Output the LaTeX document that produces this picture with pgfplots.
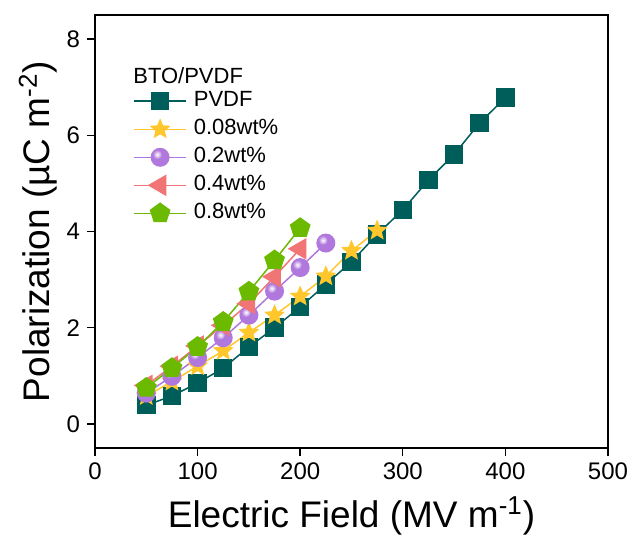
\documentclass[border=0pt]{standalone}
\usepackage{pgfplots}
\pgfplotsset{compat=1.18}
\usepackage{fontspec}
\setmainfont{Liberation Sans}

\definecolor{cpvdf}{RGB}{0,94,90}
\definecolor{cstar}{RGB}{255,199,44}
\definecolor{cball}{RGB}{176,120,220}
\definecolor{ctri}{RGB}{242,117,117}
\definecolor{cpent}{RGB}{108,186,0}

% filled five-pointed star
\pgfdeclareplotmark{fstar}{%
  \pgfpathmoveto{\pgfpointpolar{90}{\pgfplotmarksize}}%
  \pgfpathlineto{\pgfpointpolar{126}{0.45\pgfplotmarksize}}%
  \pgfpathlineto{\pgfpointpolar{162}{\pgfplotmarksize}}%
  \pgfpathlineto{\pgfpointpolar{198}{0.45\pgfplotmarksize}}%
  \pgfpathlineto{\pgfpointpolar{234}{\pgfplotmarksize}}%
  \pgfpathlineto{\pgfpointpolar{270}{0.45\pgfplotmarksize}}%
  \pgfpathlineto{\pgfpointpolar{306}{\pgfplotmarksize}}%
  \pgfpathlineto{\pgfpointpolar{342}{0.45\pgfplotmarksize}}%
  \pgfpathlineto{\pgfpointpolar{18}{\pgfplotmarksize}}%
  \pgfpathlineto{\pgfpointpolar{54}{0.45\pgfplotmarksize}}%
  \pgfpathclose
  \pgfusepathqfill
}
% flat sphere with a small highlight
\pgfdeclareradialshading{sphhl}{\pgfpoint{0bp}{0bp}}{color(0bp)=(white); color(25bp)=(cball); color(50bp)=(cball)}
\pgfdeclareplotmark{sph}{%
  \pgfpathcircle{\pgfpointorigin}{\pgfplotmarksize}%
  \pgfsetfillcolor{cball}%
  \pgfusepathqfill
  \begin{pgfscope}
  \pgfpathcircle{\pgfpoint{-0.3\pgfplotmarksize}{0.3\pgfplotmarksize}}{0.5\pgfplotmarksize}%
  \pgfshadepath{sphhl}{0}%
  \pgfusepath{discard}%
  \end{pgfscope}
}

\begin{document}
\begin{tikzpicture}
\path[use as bounding box] (0,0) rectangle (318.5pt,268pt);
\begin{axis}[
    at={(47.5pt,44pt)}, anchor=south west,
    scale only axis,
    width=256.5pt, height=216.5pt,
    xmin=0, xmax=500, ymin=-0.5, ymax=8.5,
    xtick={0,100,...,500}, ytick={0,2,...,8},
    axis line style={line width=0.7pt},
    tick style={line width=0.7pt, black},
    tick align=outside,
    major tick length=4pt,
    xtick pos=bottom, ytick pos=left,
    /pgf/number format/assume math mode=true,
    ticklabel style={font=\fontsize{12}{14}\selectfont},
    xlabel={Electric Field (MV m\textsuperscript{-1})},
    ylabel={Polarization (µC m\textsuperscript{-2})},
    label style={font=\fontsize{18.5}{22}\selectfont},
    xlabel style={at={(axis description cs:0.5,-0.157)}, anchor=center},
    ylabel style={at={(axis description cs:-0.111,0.5)}, anchor=center},
    legend cell align=left,
    legend style={draw=none, fill=none, at={(0.074,0.827)}, anchor=north west,
        font=\fontsize{11}{13}\selectfont, inner sep=0pt, row sep=3.5pt,
        column sep=3.5pt,
        nodes={inner sep=0pt, text height=8pt, text depth=2.5pt}},
    legend image code/.code={\draw[mark repeat=2,mark phase=2]
        plot coordinates {(0pt,0pt) (13pt,0pt) (26pt,0pt)};},
    every axis plot/.append style={line width=0.75pt},
]
\addplot[color=cpvdf, mark=square*, mark size=4.25pt, mark options={fill=cpvdf, draw=none}] coordinates {
  (50,0.39) (75,0.58) (100,0.85) (125,1.16) (150,1.6) (175,2.0) (200,2.43)
  (225,2.9) (250,3.37) (275,3.94) (300,4.45) (325,5.07) (350,5.6) (375,6.26) (400,6.78)
};
\addlegendentry{PVDF}
\addplot[color=cstar, mark=fstar, mark size=5.5pt, mark options={fill=cstar, draw=none}] coordinates {
  (50,0.58) (75,0.88) (100,1.2) (125,1.52) (150,1.9) (175,2.26) (200,2.65)
  (225,3.07) (250,3.6) (275,4.02)
};
\addlegendentry{0.08wt\%}
\addplot[color=cball, mark=sph, mark size=4.75pt] coordinates {
  (50,0.64) (75,0.99) (100,1.38) (125,1.79) (150,2.26) (175,2.76) (200,3.25) (225,3.76)
};
\addlegendentry{0.2wt\%}
\addplot[color=ctri, mark=triangle*, mark size=5.5pt, mark options={fill=ctri, draw=none, rotate=90}] coordinates {
  (50,0.8) (75,1.2) (100,1.62) (125,2.05) (150,2.5) (175,3.06) (200,3.64)
};
\addlegendentry{0.4wt\%}
\addplot[color=cpent, mark=pentagon*, mark size=5pt, mark options={fill=cpent, draw=none}] coordinates {
  (50,0.75) (75,1.16) (100,1.6) (125,2.12) (150,2.75) (175,3.4) (200,4.07)
};
\addlegendentry{0.8wt\%}
\node[anchor=west, inner sep=0pt, font=\fontsize{11}{13}\selectfont] at (rel axis cs:0.074,0.859) {BTO/PVDF};
\end{axis}
\end{tikzpicture}
\end{document}
